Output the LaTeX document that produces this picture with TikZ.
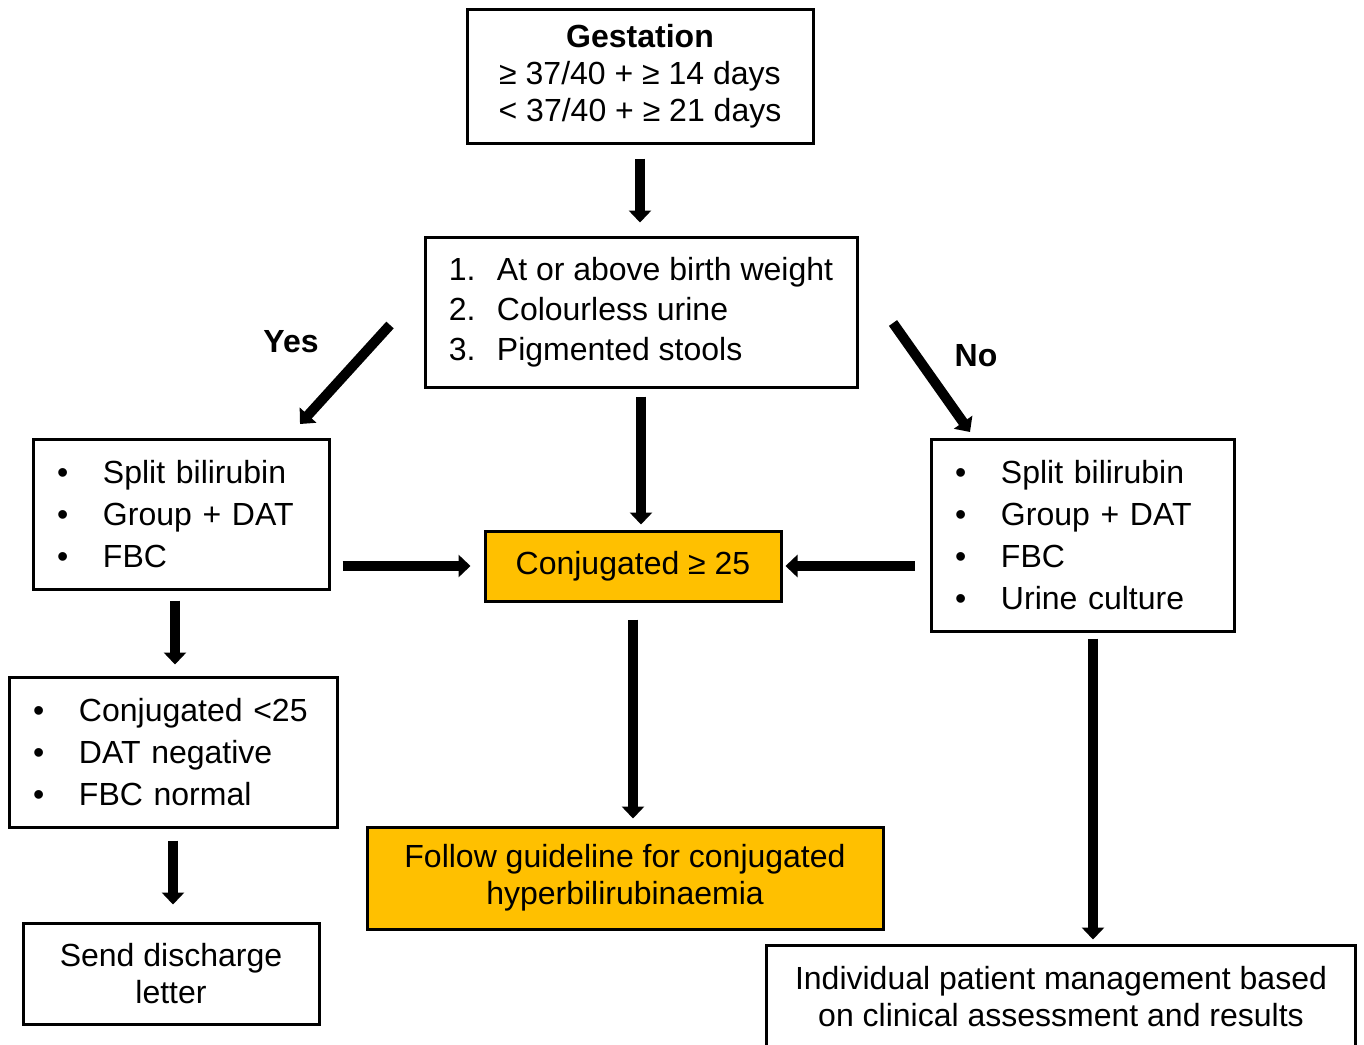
\documentclass[tikz,border=0pt]{standalone}
\usepackage{fontspec}
\setmainfont{Liberation Sans}
\usepackage{xcolor}
\usepackage{tikz}
\usetikzlibrary{arrows.meta,calc}
\definecolor{Gold}{HTML}{FFC000}
\newcommand{\bul}{\makebox[23pt][l]{•}}
\newcommand{\itm}[1]{\makebox[24pt][l]{#1}}

\begin{document}
\begin{tikzpicture}[x=0.5pt,y=-0.5pt,
box/.style={draw,line width=1.5pt,inner sep=0pt,font=\fontsize{16pt}{18.5pt}\selectfont},
list/.style={box,align=left,inner xsep=12pt,font=\fontsize{16pt}{21pt}\selectfont},
gold/.style={box,fill=Gold},
arr/.style={-{Triangle[length=6pt,width=11pt]},line width=5pt},
lbl/.style={font=\fontsize{16pt}{18.5pt}\selectfont\bfseries}]
\clip (0,0) rectangle (1364,1044);
\node[box,align=center,minimum width=173pt,minimum height=67pt] (gest) at (640,76)
  {\textbf{Gestation}\\≥ 37/40 + ≥ 14 days\\< 37/40 + ≥ 21 days};
\node[box,align=left,minimum width=216pt,minimum height=75pt,font=\fontsize{16pt}{20pt}\selectfont] (crit) at (641,312)
  {\itm{1.}At or above birth weight\\\itm{2.}Colourless urine\\\itm{3.}Pigmented stools};
\node[list,text width=124pt,minimum height=75pt] (left) at (181,514)
  {\bul Split bilirubin\\\bul Group + DAT\\\bul FBC};
\node[list,text width=127.5pt,minimum height=96pt] (right) at (1082.5,535)
  {\bul Split bilirubin\\\bul Group + DAT\\\bul FBC\\\bul Urine culture};
\node[gold,minimum width=148pt,minimum height=35pt] (conj) at (633,566) {Conjugated ≥ 25};
\node[list,text width=140pt,minimum height=75pt] (neg) at (173,752)
  {\bul Conjugated <25\\\bul DAT negative\\\bul FBC normal};
\node[box,align=center,minimum width=148pt,minimum height=50.5pt] (send) at (171,973.5)
  {Send discharge\\letter};
\node[gold,align=center,minimum width=258pt,minimum height=51pt] (follow) at (625,878)
  {Follow guideline for conjugated\\hyperbilirubinaemia};
\node[box,align=center,minimum width=294.5pt,minimum height=52pt] (ind) at (1061,997)
  {Individual patient management based\\on clinical assessment and results};
\node[lbl] (yes) at (291,342) {Yes};
\node[lbl] (no) at (976,356) {No};
\coordinate (ys) at (390,325); \coordinate (ye) at (300,424);
\coordinate (ns) at (893,323); \coordinate (ne) at (970,432);
\draw[arr,shorten <=7pt,shorten >=6.5pt] (gest.south) -- (gest.south |- crit.north);
\draw[arr] (ys) -- (ye);
\draw[arr] (ns) -- (ne);
\draw[arr,shorten <=4pt,shorten >=2.5pt] (crit.south) -- (crit.south |- conj.north);
\draw[arr,shorten <=6pt,shorten >=6.5pt] (left.east |- conj.west) -- (conj.west);
\draw[arr,shorten <=7.5pt,shorten >=1.5pt] (right.west |- conj.east) -- (conj.east);
\draw[arr,shorten <=5pt,shorten >=5.5pt] ([xshift=-3pt]left.south) -- ([xshift=-3pt]left.south |- neg.north);
\draw[arr,shorten <=6pt,shorten >=8.5pt] (neg.south) -- (neg.south |- send.north);
\draw[arr,shorten <=8.5pt,shorten >=3.5pt] (conj.south) -- (conj.south |- follow.north);
\draw[arr,shorten <=3pt,shorten >=2pt] ([xshift=5.25pt]right.south) -- ([xshift=5.25pt]right.south |- ind.north);
\end{tikzpicture}
\end{document}
